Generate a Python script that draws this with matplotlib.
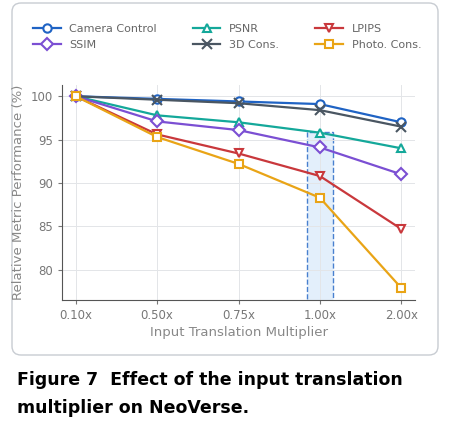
import matplotlib
matplotlib.use("Agg")
import matplotlib.pyplot as plt
from matplotlib.patches import FancyBboxPatch, Rectangle

xlabels = ["0.10x", "0.50x", "0.75x", "1.00x", "2.00x"]
camera = [100, 99.7, 99.4, 99.1, 97.0]
psnr = [100, 97.8, 97.0, 95.8, 94.0]
lpips = [100, 95.6, 93.4, 90.8, 84.7]
ssim = [100, 97.1, 96.1, 94.1, 91.0]
cons3d = [100, 99.6, 99.2, 98.4, 96.5]
photo = [100, 95.3, 92.2, 88.3, 77.9]

series = [("Camera Control", camera, "#1f63c4", "o"),
          ("PSNR", psnr, "#14a89a", "^"),
          ("LPIPS", lpips, "#c9383c", "v"),
          ("SSIM", ssim, "#7b4fd3", "D"),
          ("3D Cons.", cons3d, "#4a5662", "x"),
          ("Photo. Cons.", photo, "#e9a416", "s")]

fig = plt.figure(figsize=(4.54, 4.40), dpi=100)
W, H = 454, 440
box = FancyBboxPatch((12/W, 85/H), 426/W, 352/H, boxstyle="round,pad=0,rounding_size=0.02",
                     transform=fig.transFigure, fc="white", ec="#c8ccd2", lw=1, zorder=-10)
fig.patches.append(box)
ax = fig.add_axes([62/W, 1-300/H, 353/W, 215/H])
ax.patch.set_alpha(0)
x = list(range(len(xlabels)))
handles = []
for name, v, c, m in series:
    h, = ax.plot(x, v, color=c, lw=1.6, marker=m, ms=6 if m != "x" else 7,
                 mfc="white" if m != "x" else c, mew=1.5, label=name)
    handles.append(h)
ax.add_patch(Rectangle((2.84, 76.35), 0.32, 19.5, fc="#dcebfb", ec="#1f63c4", ls="--", lw=1, alpha=0.8, zorder=0))
ax.set_xticks(x, xlabels)
ax.set_xlim(-0.17, 4.17)
ax.set_ylim(76.5, 101.3)
ax.set_yticks([80, 85, 90, 95, 100])
ax.grid(True, color="#e3e5e8", lw=0.7)
ax.set_axisbelow(True)
for s in ["top", "right"]:
    ax.spines[s].set_visible(False)
for s in ["left", "bottom"]:
    ax.spines[s].set_color("#555")
ax.tick_params(colors="#777", labelsize=8.5, length=3)
ax.set_xlabel("Input Translation Multiplier", color="#888", fontsize=9.5, labelpad=3)
ax.set_ylabel("Relative Metric Performance (%)", color="#888", fontsize=9.5)
order = [0, 3, 1, 4, 2, 5]
fig.legend([handles[i] for i in order], [series[i][0] for i in order],
           loc="upper center", bbox_to_anchor=(0.5, 1-14/H), ncol=3, frameon=False, fontsize=8,
           labelcolor="#666", columnspacing=3.2, handlelength=2.5)
fig.text(17/W, 1-380/H, "Figure 7  Effect of the input translation", fontsize=12.5, fontweight="bold", va="center")
fig.text(17/W, 1-408/H, "multiplier on NeoVerse.", fontsize=12.5, fontweight="bold", va="center")
fig.savefig("out.png", dpi=100)
